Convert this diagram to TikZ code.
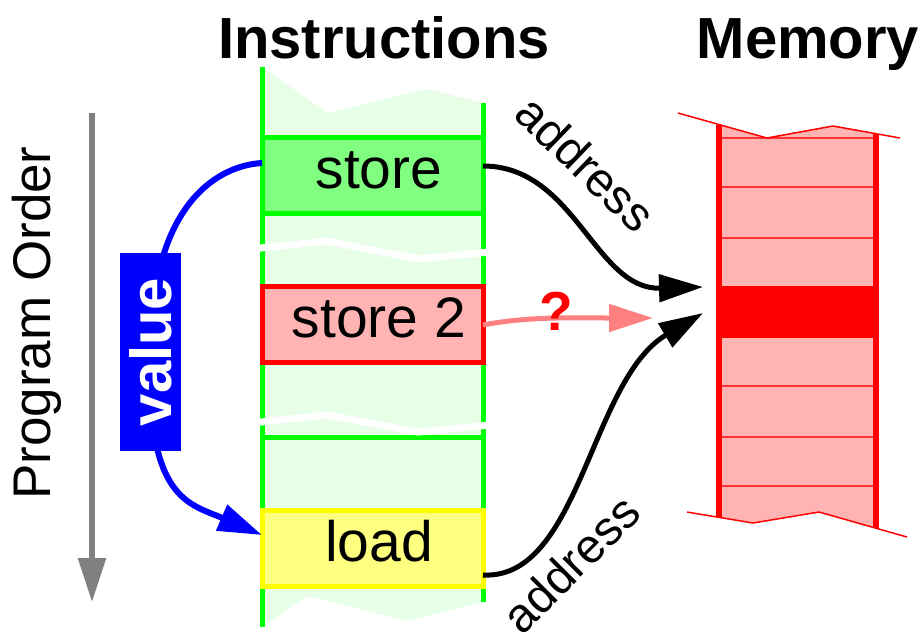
\documentclass[tikz,border=0pt]{standalone}
\usepackage{fontspec}
\setmainfont{Liberation Sans}
\usetikzlibrary{arrows.meta}

\definecolor{slotGreen}{HTML}{00FF00}
\definecolor{paleGreen}{HTML}{E6FFE6}
\definecolor{storeFill}{HTML}{80FF80}
\definecolor{memRed}{HTML}{FF0000}
\definecolor{memFill}{HTML}{FFB3B3}
\definecolor{rowLine}{HTML}{FF3333}
\definecolor{loadLine}{HTML}{FFFF00}
\definecolor{loadFill}{HTML}{FFFF80}
\definecolor{guessPink}{HTML}{FF8080}
\definecolor{orderGray}{HTML}{808080}

\begin{document}
\begin{tikzpicture}[x=1pt,y=-1pt,
  slot/.style={rectangle, minimum width=221pt, minimum height=76pt,
    inner sep=0pt, outer sep=0pt, line width=5pt},
  optext/.style={anchor=base, inner sep=0pt, font=\fontsize{57}{60}\selectfont},
  heading/.style={anchor=base, inner sep=0pt, font=\fontsize{58}{60}\selectfont\bfseries},
  addr/.style={inner sep=0pt, font=\fontsize{48}{50}\selectfont},
  bigtip/.style={-{Triangle[length=44pt,width=27pt]}},
  rail/.style={slotGreen, line width=5pt},
  memrail/.style={memRed, line width=6pt},
  thinred/.style={memRed, line width=1.5pt},
  gap/.style={white, line width=7pt},
]
\useasboundingbox (0,0) rectangle (923,633);

% ---------- headings ----------
\node[heading] (hInstr) at (384,58) {Instructions};
\node[heading] (hMem) at (808,58) {Memory};

% ---------- instruction stream ----------
\fill[paleGreen] (262,67) -- (328,113) -- (427,89) -- (483,103)
  -- (483,602) -- (406,621) -- (307,596) -- (262,627) -- cycle;
\draw[rail] (262,67) -- (262,627);
\draw[rail] (483,103) -- (483,602);

\node[slot, draw=slotGreen, fill=storeFill] (store) at (372.5,175) {};
\node[slot, draw=memRed, fill=memFill] (store2) at (372.5,324) {};
\node[slot, draw=loadLine, fill=loadFill] (load) at (372.5,548.5) {};
\coordinate (slotL) at (262,437);
\coordinate (slotR) at (483,437);
\draw[rail] (slotL) -- (slotR);

% cut marks across the stream
\draw[gap] (256,248.5) -- (327,241) -- (418,259) -- (489,252);
\draw[gap] (256,422.5) -- (327,415) -- (418,432) -- (489,425);

\node[optext] (tStore) at (379,188) {store};
\node[optext] (tStore2) at (379,337) {store 2};
\node[optext] (tLoad) at (379,561) {load};

% ---------- memory ----------
\fill[memFill] (719,124.5) -- (767,138) -- (833,126) -- (876,133.7)
  -- (876,528.2) -- (819,512) -- (753,523) -- (719,517.3) -- cycle;
\foreach \yy in {138,187,238,386,437,486}
  \draw[rowLine, line width=1.5pt] (719,\yy) -- (876,\yy);
\node[rectangle, fill=memRed, minimum width=157pt, minimum height=52pt,
  inner sep=0pt, outer sep=0pt] (cell) at (797.5,312) {};
\draw[memrail] (719,124.5) -- (719,517.3);
\draw[memrail] (876,133.7) -- (876,528.2);
\draw[thinred] (678,113) -- (767,138) -- (833,126) -- (900,138);
\draw[thinred] (687,512) -- (753,523) -- (819,512) -- (907,537);

% ---------- program order ----------
\coordinate (poTop) at (92,113);
\coordinate (poEnd) at (92,602);
\draw[orderGray, line width=6pt, bigtip] (poTop) -- (poEnd);
\node[anchor=base, rotate=90, inner sep=0pt,
  font=\fontsize{53}{55}\selectfont] (porder) at (50,323) {Program Order};

% ---------- value forwarding ----------
\coordinate (valMid) at (151,352);
\draw[blue, line width=6pt] ([yshift=12pt]store.west)
  .. controls (212,166) and (150,212) .. (valMid);
\draw[blue, line width=6pt, bigtip] (valMid)
  .. controls (145,500) and (190,504) .. ([yshift=13.5pt]load.west);
\node[rectangle, fill=blue, rotate=90, minimum width=198pt, minimum height=61pt,
  inner sep=0pt, text=white, font=\fontsize{58}{60}\selectfont\bfseries]
  (value) at (150.5,352) {value};

% ---------- addresses ----------
\coordinate (hitStore) at (703,287);
\coordinate (hitLoad) at (703,313);
\coordinate (hitGuess) at (653,318);
\draw[black, line width=5pt, bigtip] ([yshift=9pt]store.east)
  .. controls (575,166) and (595,290) .. (hitStore);
\draw[black, line width=5pt, bigtip] ([yshift=-26.5pt]load.east)
  .. controls (580,580) and (590,380) .. (hitLoad);
\draw[guessPink, line width=5pt, bigtip] ([yshift=-1pt]store2.east)
  .. controls (530,316) and (575,318) .. (hitGuess);

\node[addr, rotate=-44] (addrTop) at (586,163.5) {address};
\node[addr, rotate=45] (addrBot) at (570.5,564) {address};
\node[inner sep=0pt, text=memRed, font=\fontsize{55}{57}\selectfont\bfseries]
  (quest) at (556,311) {?};
\end{tikzpicture}
\end{document}
